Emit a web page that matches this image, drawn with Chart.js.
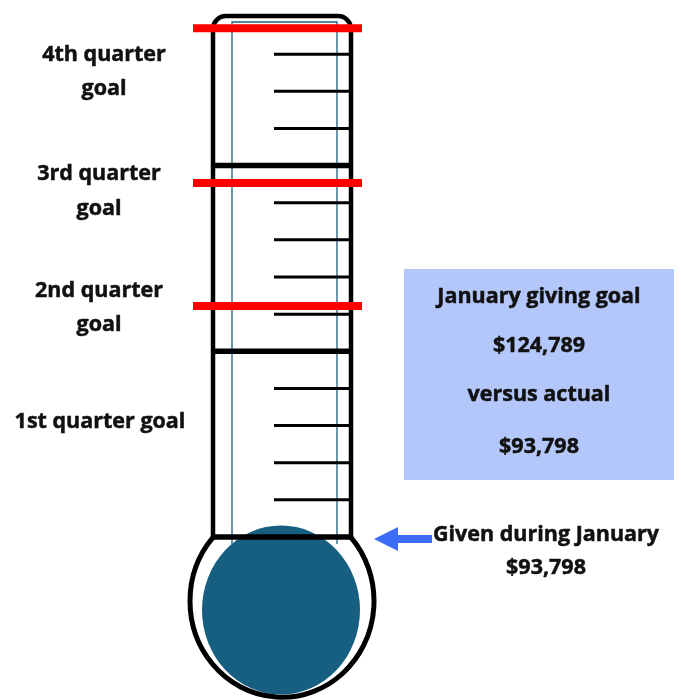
<!DOCTYPE html>
<html>
<head>
<meta charset="utf-8">
<title>January giving thermometer</title>
<script src="https://cdn.jsdelivr.net/npm/chart.js@4.4.1/dist/chart.umd.min.js"></script>
<style>
  html, body { margin: 0; padding: 0; background: #ffffff; }
  #wrap { width: 681px; height: 700px; }
</style>
</head>
<body>
<div id="wrap"><canvas id="thermo" width="681" height="700"></canvas></div>
<script>
// Thermometer data (y scale = graduation steps, 0 = top of bulb)
const tickLevels = [1, 2, 3, 4, 6, 7, 8, 9, 11, 12, 13];
const dividerLevels = [0, 5, 10];
const goalLevels = [6.22, 9.53, 13.7];   // 2nd, 3rd, 4th quarter goal lines
const goalNames = ['1st quarter goal', '2nd quarter\ngoal', '3rd quarter\ngoal', '4th quarter\ngoal'];
const boxLines = ['January giving goal', '$124,789', 'versus actual', '$93,798'];
const givenLines = ['Given during January', '$93,798'];
const levelMax = 14;

// Layout (pixels on the x scale, which runs 0..681)
const TUBE = { left: 213, right: 351, top: 16, radius: 13, tickStart: 274, innerLeft: 232, innerRight: 337, innerTop: 22 };
const GOAL_SPAN = [193, 362];
const LABEL_POS = [
    { x: 100, y: [422] },
    { x: 99, y: [291, 325] },
    { x: 99, y: [174, 209] },
    { x: 104, y: [55, 89] }
];
const FONT = 'bold 21.5px "Open Sans", sans-serif';
const INK = '#111111';

// Build broken line segments for scatter datasets
function segments(levels, x0, x1) {
    const pts = [];
    levels.forEach(l => {
        pts.push({ x: x0, y: l }, { x: x1, y: l }, { x: x1, y: null });
    });
    return pts;
}

// Bold text, drawn with a hairline stroke to thicken it a little
function centerText(ctx, text, x, y) {
    ctx.fillText(text, x, y);
    ctx.strokeText(text, x, y);
}

const thermoPlugin = {
    id: 'thermo',
    beforeDatasetsDraw(chart) {
        const { ctx, scales: { x, y } } = chart;
        const yb = y.getPixelForValue(0);
        const l = x.getPixelForValue(TUBE.left);
        const r = x.getPixelForValue(TUBE.right);
        const cx = (l + r) / 2;

        ctx.save();
        // mercury in the bulb
        ctx.fillStyle = '#175f80';
        ctx.beginPath();
        ctx.ellipse(cx - 1, yb + 73, 79, 84.5, 0, 0, Math.PI * 2);
        ctx.fill();

        // bulb outline
        ctx.strokeStyle = '#000';
        ctx.lineWidth = 5;
        ctx.beginPath();
        const a = Math.acos((r - cx) / 92);
        ctx.ellipse(cx, yb + 64, 92, 96.3, 0, -a, Math.PI + a, false);
        ctx.stroke();

        // tube walls
        ctx.lineWidth = 4.5;
        ctx.beginPath();
        ctx.moveTo(l, yb);
        ctx.lineTo(l, TUBE.top + TUBE.radius);
        ctx.arcTo(l, TUBE.top, l + TUBE.radius, TUBE.top, TUBE.radius);
        ctx.lineTo(r - TUBE.radius, TUBE.top);
        ctx.arcTo(r, TUBE.top, r, TUBE.top + TUBE.radius, TUBE.radius);
        ctx.lineTo(r, yb);
        ctx.stroke();

        // thin inner glass lines
        ctx.strokeStyle = '#1c5f80';
        ctx.lineWidth = 1.3;
        ctx.beginPath();
        const il = x.getPixelForValue(TUBE.innerLeft);
        const ir = x.getPixelForValue(TUBE.innerRight);
        ctx.moveTo(il, yb + 7);
        ctx.lineTo(il, TUBE.innerTop);
        ctx.lineTo(ir, TUBE.innerTop);
        ctx.lineTo(ir, yb + 7);
        ctx.stroke();
        ctx.restore();
    },
    afterDraw(chart) {
        const { ctx } = chart;
        ctx.save();
        ctx.font = FONT;
        ctx.fillStyle = INK;
        ctx.strokeStyle = INK;
        ctx.lineWidth = 0.5;
        ctx.textAlign = 'center';
        ctx.textBaseline = 'middle';

        // quarter labels
        goalNames.forEach((name, i) => {
            const pos = LABEL_POS[i];
            name.split('\n').forEach((line, j) => centerText(ctx, line, pos.x, pos.y[j]));
        });

        // summary box
        ctx.fillStyle = '#b4c7fa';
        ctx.fillRect(404, 269, 270, 211);
        ctx.fillStyle = INK;
        const boxY = [297, 346, 395, 447];
        boxLines.forEach((line, i) => centerText(ctx, line, 539, boxY[i]));

        // given label and arrow
        centerText(ctx, givenLines[0], 546, 535);
        centerText(ctx, givenLines[1], 546, 568);

        ctx.fillStyle = '#3d6cf6';
        ctx.beginPath();
        ctx.moveTo(374, 539);
        ctx.lineTo(398, 527);
        ctx.lineTo(398, 535);
        ctx.lineTo(432, 535);
        ctx.lineTo(432, 543);
        ctx.lineTo(398, 543);
        ctx.lineTo(398, 551);
        ctx.closePath();
        ctx.fill();
        ctx.restore();
    }
};

const lineStyle = { showLine: true, spanGaps: false, pointRadius: 0, borderCapStyle: 'butt', clip: false };

new Chart(document.getElementById('thermo'), {
    type: 'scatter',
    data: {
        datasets: [
            Object.assign({ label: 'Quarter goals', data: segments(goalLevels, GOAL_SPAN[0], GOAL_SPAN[1]), borderColor: '#ff0000', borderWidth: 8 }, lineStyle),
            Object.assign({ label: 'Dividers', data: segments(dividerLevels, TUBE.left - 2, TUBE.right + 2), borderColor: '#000000', borderWidth: 5.5 }, lineStyle),
            Object.assign({ label: 'Graduations', data: segments(tickLevels, TUBE.tickStart, TUBE.right), borderColor: '#000000', borderWidth: 3 }, lineStyle)
        ]
    },
    options: {
        responsive: false,
        animation: false,
        devicePixelRatio: 1,
        layout: { padding: { top: 17, bottom: 163, left: 0, right: 0 } },
        plugins: { legend: { display: false }, tooltip: { enabled: false } },
        scales: {
            x: { type: 'linear', min: 0, max: 681, display: false },
            y: { type: 'linear', min: 0, max: levelMax, display: false }
        }
    },
    plugins: [thermoPlugin]
});
</script>
</body>
</html>
